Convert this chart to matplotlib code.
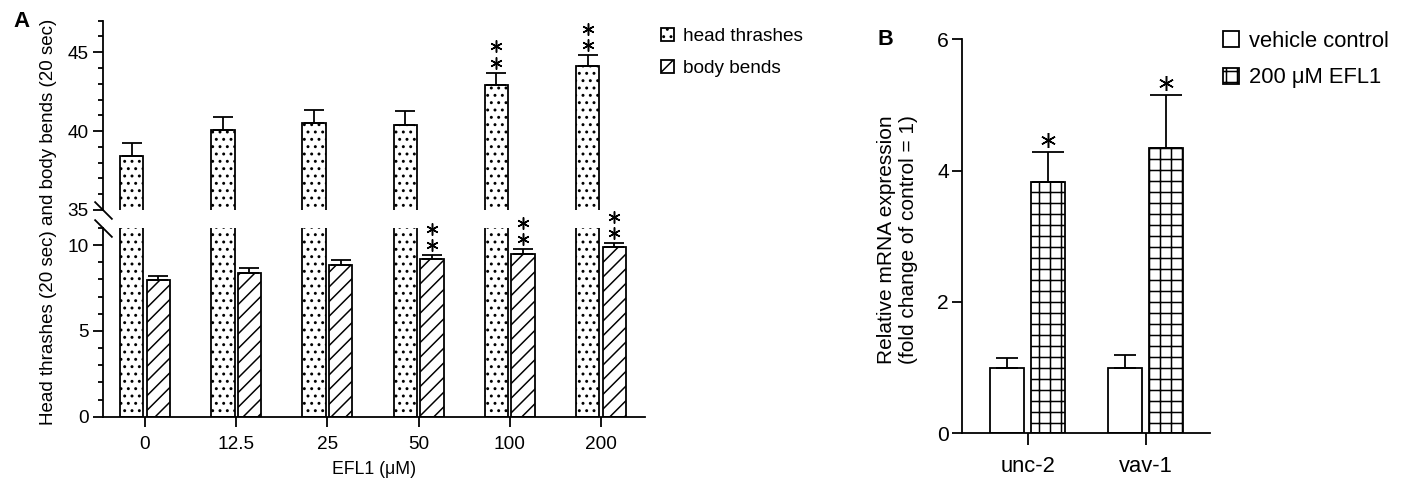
import matplotlib
matplotlib.use("Agg")
import matplotlib.pyplot as plt
from matplotlib.transforms import offset_copy
import numpy as np

DPI = 132
W, H = 1402, 483


def px(v):
    # pixels -> points at the figure dpi
    return v * 72.0 / DPI


def box(x0, y0, x1, y1):
    # pixel box (top-left origin) -> figure fraction rect
    return [x0 / W, 1 - y1 / H, (x1 - x0) / W, (y1 - y0) / H]


# ---- panel A data ----
doses = ["0", "12.5", "25", "50", "100", "200"]
head_mean = [38.4, 40.1, 40.5, 40.4, 42.9, 44.1]
head_err = [0.84, 0.77, 0.81, 0.85, 0.8, 0.7]
body_mean = [7.95, 8.37, 8.82, 9.19, 9.46, 9.87]
body_err = [0.23, 0.27, 0.29, 0.21, 0.29, 0.23]
head_stars = [0, 0, 0, 0, 2, 2]
body_stars = [0, 0, 0, 2, 2, 2]

# ---- panel B data ----
genes = ["unc-2", "vav-1"]
vehicle_mean = [1.0, 1.0]
vehicle_err = [0.14, 0.19]
efl1_mean = [3.82, 4.34]
efl1_err = [0.47, 0.81]
efl1_stars = [1, 1]

plt.rcParams.update({
    "font.family": ["Liberation Sans", "DejaVu Sans"],
    "hatch.linewidth": px(1.5),
    "hatch.color": "black",
    "axes.linewidth": px(1.8),
})

fig = plt.figure(figsize=(W / DPI, H / DPI), dpi=DPI)
LW = px(1.8)


def add_stars(ax, xs, ys, counts, size, first, step):
    for x, y, n in zip(xs, ys, counts):
        for k in range(n):
            tr = offset_copy(ax.transData, fig=fig, y=px(first + k * step), units="points")
            ax.plot([x], [y], transform=tr, marker=(6, 2, 0), ms=px(size),
                    mew=px(1.5), color="black", ls="none", clip_on=False)


# ================= panel A (broken y axis) =================
ax_top = fig.add_axes(box(103, 20.7, 644.6, 210))
ax_bot = fig.add_axes(box(103, 228, 644.6, 416.7))

x = np.arange(len(doses))
off, wid = 0.146, 0.256
zeros = np.zeros(len(doses))
err_kw = dict(fmt="none", ecolor="black", elinewidth=LW, capsize=px(10), capthick=LW)

for ax in (ax_top, ax_bot):
    hb = ax.bar(x - off, head_mean, wid, facecolor="white", edgecolor="black",
                hatch="...", lw=LW, label="head thrashes")
    bb = ax.bar(x + off, body_mean, wid, facecolor="white", edgecolor="black",
                hatch="///", lw=LW, label="body bends")
    ax.errorbar(x - off, head_mean, yerr=[zeros, head_err], **err_kw)
    ax.errorbar(x + off, body_mean, yerr=[zeros, body_err], **err_kw)
    ax.set_xlim(-0.46, 5.478)
    ax.spines["top"].set_visible(False)
    ax.spines["right"].set_visible(False)
    ax.tick_params(axis="y", which="major", length=px(10), width=LW,
                   labelsize=px(19), pad=px(4.5))
    ax.tick_params(axis="y", which="minor", length=px(5), width=LW)

ax_top.set_ylim(35, 47)
ax_top.set_yticks([35, 40, 45])
ax_top.set_yticks(np.arange(35, 48, 1), minor=True)
ax_top.spines["bottom"].set_visible(False)
ax_top.tick_params(axis="x", bottom=False, labelbottom=False)

ax_bot.set_ylim(0, 11)
ax_bot.set_yticks([0, 5, 10])
ax_bot.set_yticks(np.arange(0, 12, 1), minor=True)
ax_bot.set_xticks(x)
ax_bot.set_xticklabels(doses)
ax_bot.tick_params(axis="x", length=px(10), width=LW, labelsize=px(19), pad=px(9))

# break marks on the y axis
brk = dict(marker=[(-1, 1), (1, -1)], ms=px(18), mew=LW, color="black",
           ls="none", clip_on=False)
ax_top.plot([0], [0], transform=ax_top.transAxes, **brk)
ax_bot.plot([0], [1], transform=ax_bot.transAxes, **brk)

top_err = np.array(head_mean) + np.array(head_err)
add_stars(ax_top, x - off, top_err, head_stars, 12, 10, 16.5)
bot_err = np.array(body_mean) + np.array(body_err)
add_stars(ax_bot, x + off, bot_err, body_stars, 12, 10, 16.5)

fig.text(49 / W, 1 - 222 / H, "Head thrashes (20 sec) and body bends (20 sec)",
         rotation=90, ha="center", va="center", fontsize=px(18.8))
fig.text(374 / W, 1 - 469 / H, "EFL1 (μM)", ha="center", va="center", fontsize=px(17.7))
fig.text(21.3 / W, 1 - 21.3 / H, "A", ha="center", va="center",
         fontsize=px(22.3), fontweight="bold")

leg_a = fig.legend(handles=[hb, bb], loc="upper left",
                   bbox_to_anchor=(660.7 / W, 1 - 27.5 / H), frameon=False,
                   fontsize=px(19), handlelength=0.68, handleheight=0.68,
                   handletextpad=0.47, labelspacing=0.78, borderpad=0, borderaxespad=0)

# ================= panel B =================
axb = fig.add_axes(box(962.3, 39.3, 1210.5, 433.3))
xb = np.arange(len(genes))
offb, widb = 0.173, 0.288
zb = np.zeros(len(genes))
vb = axb.bar(xb - offb, vehicle_mean, widb, facecolor="white", edgecolor="black",
             lw=LW, label="vehicle control")
eb = axb.bar(xb + offb, efl1_mean, widb, facecolor="white", edgecolor="black",
             hatch="++", lw=LW, label="200 μM EFL1")
axb.errorbar(xb - offb, vehicle_mean, yerr=[zb, vehicle_err], fmt="none", ecolor="black",
             elinewidth=LW, capsize=px(11), capthick=LW)
axb.errorbar(xb + offb, efl1_mean, yerr=[zb, efl1_err], fmt="none", ecolor="black",
             elinewidth=LW, capsize=px(16), capthick=LW)
add_stars(axb, xb + offb, np.array(efl1_mean) + np.array(efl1_err), efl1_stars, 15, 12, 0)

axb.set_xlim(-0.554, 1.548)
axb.set_ylim(0, 6)
axb.set_yticks([0, 2, 4, 6])
axb.set_xticks(xb)
axb.set_xticklabels(genes)
axb.spines["top"].set_visible(False)
axb.spines["right"].set_visible(False)
axb.tick_params(axis="y", length=px(10), width=LW, labelsize=px(21), pad=px(3.5))
axb.tick_params(axis="x", length=px(12), width=LW, labelsize=px(22), pad=px(11))

fig.text(898 / W, 1 - 240 / H, "Relative mRNA expression\n(fold change of control = 1)",
         rotation=90, ha="center", va="center", multialignment="center",
         fontsize=px(20.9), linespacing=1.2)
fig.text(885.5 / W, 1 - 39.2 / H, "B", ha="center", va="center",
         fontsize=px(21.6), fontweight="bold")

leg_b = fig.legend(handles=[vb, eb], loc="upper left",
                   bbox_to_anchor=(1223 / W, 1 - 31 / H), frameon=False,
                   fontsize=px(22), handlelength=0.73, handleheight=0.73,
                   handletextpad=0.45, labelspacing=0.7, borderpad=0, borderaxespad=0)

fig.savefig("out.png", dpi=DPI)
